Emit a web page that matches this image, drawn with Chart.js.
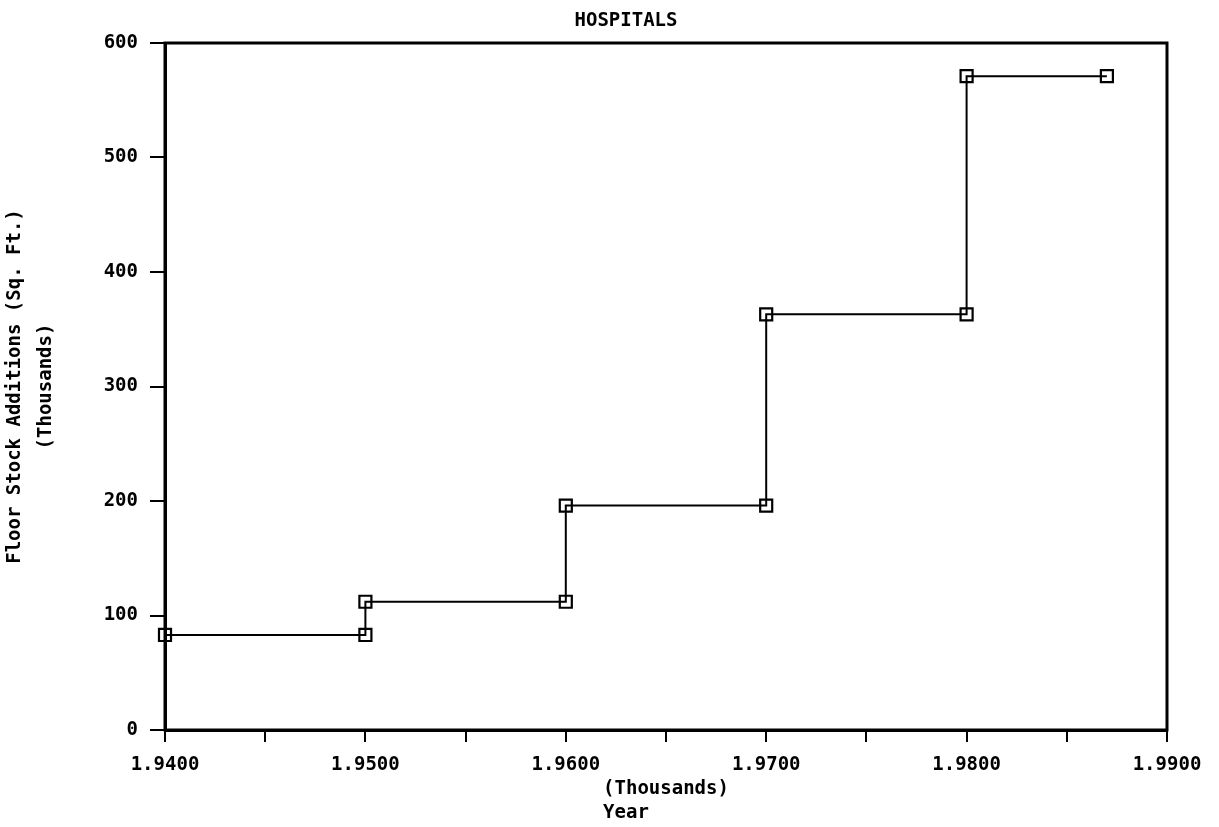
<!DOCTYPE html>
<html>
<head>
<meta charset="utf-8">
<script src="https://cdn.jsdelivr.net/npm/chart.js@4.4.1/dist/chart.umd.min.js"></script>
<style>
  html, body { margin: 0; padding: 0; background: #fff; }
  canvas { display: block; }
</style>
</head>
<body>
<canvas id="c" width="1219" height="827"></canvas>
<script>
// Data (x in thousands of years)
const chartTitle = 'HOSPITALS';
const xValues = [1.940, 1.950, 1.950, 1.960, 1.960, 1.970, 1.970, 1.980, 1.980, 1.987];
const yValues = [83, 83, 112, 112, 196, 196, 363, 363, 571, 571];
const xTickLabels = ['1.9400', '1.9500', '1.9600', '1.9700', '1.9800', '1.9900'];
const yTitle = ['Floor Stock Additions (Sq. Ft.)', '(Thousands)'];
const xTitle = ['(Thousands)', 'Year       '];

const points = xValues.map((x, i) => ({ x: x, y: yValues[i] }));

Chart.defaults.font.family = "'DejaVu Sans Mono', monospace";
Chart.defaults.font.weight = 'bold';
Chart.defaults.color = '#000';

const framePlugin = {
  id: 'frame',
  afterDraw(chart) {
    const { ctx, chartArea: a } = chart;
    ctx.save();
    ctx.strokeStyle = '#000';
    ctx.lineWidth = 3;
    ctx.strokeRect(a.left, a.top, a.right - a.left, a.bottom - a.top);
    ctx.font = "bold 19px 'DejaVu Sans Mono', monospace";
    ctx.fillStyle = '#000';
    ctx.textAlign = 'center';
    ctx.textBaseline = 'middle';
    ctx.fillText(chartTitle, (a.left + a.right) / 2 - 40, 21);
    ctx.restore();
  }
};

new Chart(document.getElementById('c'), {
  type: 'scatter',
  data: {
    datasets: [{
      data: points,
      showLine: true,
      clip: false,
      borderColor: '#000',
      borderWidth: 2,
      backgroundColor: 'rgba(0,0,0,0)',
      pointStyle: 'rect',
      pointRadius: 8.5,
      pointBorderWidth: 2.2,
      pointBorderColor: '#000',
      pointBackgroundColor: 'rgba(0,0,0,0)',
      tension: 0
    }]
  },
  options: {
    responsive: false,
    animation: false,
    layout: { padding: { top: 43, right: 52, left: 0, bottom: 0 } },
    plugins: {
      legend: { display: false },
      tooltip: { enabled: false },
      title: { display: false }
    },
    scales: {
      x: {
        type: 'linear',
        min: 1.94,
        max: 1.99,
        afterFit(s) { s.height = 97; },
        afterBuildTicks(s) {
          const t = [];
          for (let i = 0; i <= 10; i++) t.push({ value: 1.94 + i * 0.005 });
          s.ticks = t;
        },
        ticks: {
          autoSkip: false,
          maxRotation: 0,
          padding: 12,
          font: { size: 19 },
          callback(v, i) { return i % 2 === 0 ? xTickLabels[i / 2] : ''; }
        },
        grid: {
          drawOnChartArea: false,
          drawTicks: true,
          tickLength: 12,
          color: '#000',
          lineWidth: 2
        },
        border: { display: true, color: '#000', width: 3 },
        title: {
          display: true,
          text: xTitle,
          font: { size: 19, lineHeight: 1.25 },
          padding: { top: 0, bottom: 2 }
        }
      },
      y: {
        min: 0,
        max: 600,
        afterFit(s) { s.width = 165; },
        ticks: {
          stepSize: 100,
          padding: 12,
          font: { size: 19 }
        },
        grid: {
          drawOnChartArea: false,
          drawTicks: true,
          tickLength: 15,
          color: '#000',
          lineWidth: 2
        },
        border: { display: true, color: '#000', width: 3 },
        title: {
          display: true,
          text: yTitle,
          font: { size: 19, lineHeight: 1.6 },
          padding: { top: 0, bottom: 0 }
        }
      }
    }
  },
  plugins: [framePlugin]
});
</script>
</body>
</html>
